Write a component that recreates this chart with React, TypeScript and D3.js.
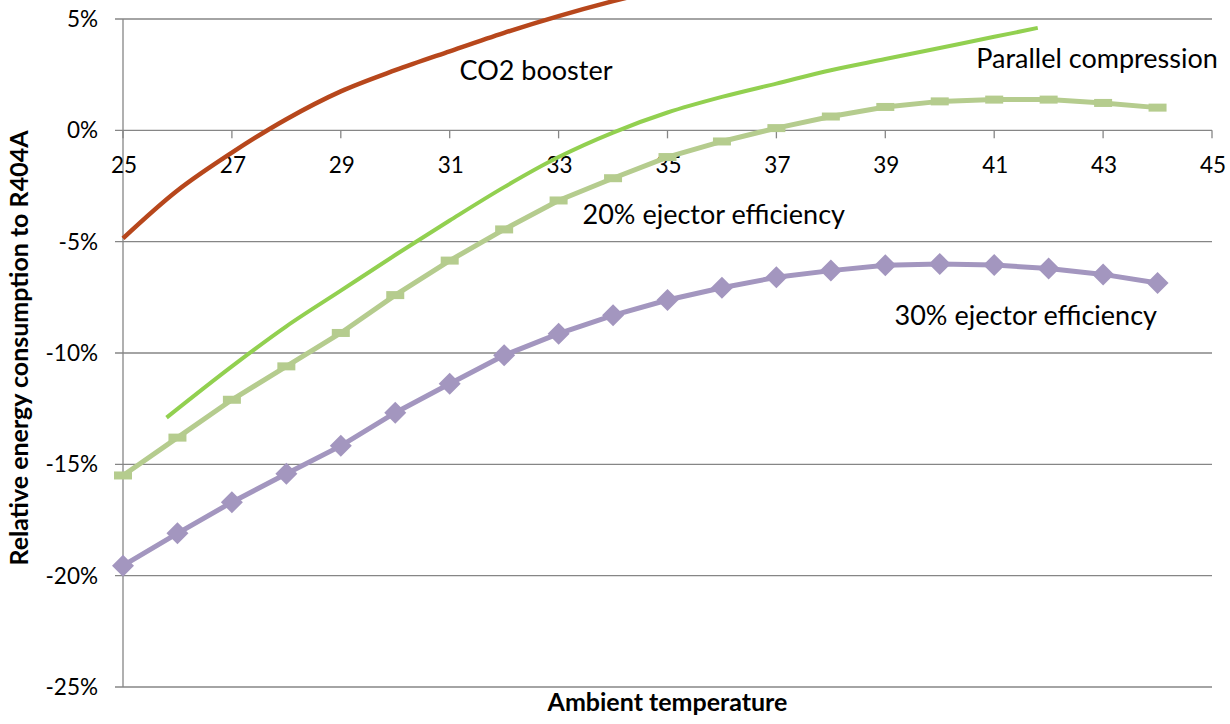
import React from 'react';
import * as d3 from 'd3';

// Ambient temperature categories (°C)
const temps = [25, 26, 27, 28, 29, 30, 31, 32, 33, 34, 35, 36, 37, 38, 39, 40, 41, 42, 43, 44];

// 20% ejector efficiency (% relative to R404A)
const ejector20 = [-15.5, -13.8, -12.1, -10.6, -9.1, -7.4, -5.85, -4.45, -3.15, -2.15, -1.2, -0.5, 0.1, 0.62, 1.05, 1.3, 1.38, 1.38, 1.23, 1.02];

// 30% ejector efficiency
const ejector30 = [-19.55, -18.1, -16.7, -15.42, -14.17, -12.68, -11.38, -10.1, -9.13, -8.31, -7.62, -7.07, -6.6, -6.3, -6.06, -6.0, -6.05, -6.21, -6.47, -6.86];

// CO2 booster
const boosterTemps = [25, 26, 27, 28, 29, 30, 31, 32, 33, 34, 35];
const booster = [-4.85, -2.7, -1.0, 0.5, 1.75, 2.7, 3.55, 4.38, 5.13, 5.8, 6.4];

// Parallel compression
const parallelTemps = [25.8, 27, 28, 29, 30, 31, 32, 33, 34, 35, 36, 37, 38, 39, 40, 41, 41.8];
const parallel = [-12.9, -10.6, -8.8, -7.2, -5.6, -4.05, -2.55, -1.2, -0.1, 0.8, 1.5, 2.1, 2.7, 3.2, 3.7, 4.2, 4.6];

const xTicks = [25, 27, 29, 31, 33, 35, 37, 39, 41, 43, 45];
const yTicks = [5, 0, -5, -10, -15, -20, -25];

const W = 1230;
const H = 724;
const left = 123;
const right = 1212;
const top = 19;
const bottom = 687;

const font = 'Lato, "Open Sans", sans-serif';

export default function App() {
  const x = d3.scaleLinear().domain([25, 45]).range([left, right]);
  const y = d3.scaleLinear().domain([-25, 5]).range([bottom, top]);

  const zip = (xs: number[], ys: number[]) => xs.map((t, i) => [t, ys[i]] as [number, number]);

  const smooth = d3.line<[number, number]>()
    .x(d => x(d[0]))
    .y(d => y(d[1]))
    .curve(d3.curveCatmullRom.alpha(0.5));

  const straight = d3.line<[number, number]>()
    .x(d => x(d[0]))
    .y(d => y(d[1]));

  const e20 = zip(temps, ejector20);
  const e30 = zip(temps, ejector30);

  const grid = '#868686';

  return (
    <svg width={W} height={H} style={{ position: 'absolute', left: 0, top: 0, background: '#fff' }}>
      {/* gridlines */}
      {yTicks.map(v => (
        <line key={v} x1={left - 8} x2={right} y1={y(v)} y2={y(v)} stroke={grid} strokeWidth={1.3} />
      ))}
      {/* y axis */}
      <line x1={left} x2={left} y1={top} y2={bottom} stroke={grid} strokeWidth={1.3} />
      {/* x axis ticks */}
      {xTicks.map(t => (
        <line key={t} x1={x(t)} x2={x(t)} y1={y(0)} y2={y(0) + 8} stroke={grid} strokeWidth={1.3} />
      ))}

      {/* y tick labels */}
      {yTicks.map(v => (
        <text key={v} x={left - 25} y={y(v)} dy="0.36em" textAnchor="end"
          fontFamily={font} fontSize={22.5} fill="#000">{`${v}%`}</text>
      ))}
      {/* x tick labels */}
      {xTicks.map(t => (
        <text key={t} x={x(t) + 1} y={y(0) + 43} textAnchor="middle"
          fontFamily={font} fontSize={22.5} fill="#000">{t}</text>
      ))}

      {/* series */}
      <path d={smooth(zip(boosterTemps, booster)) || ''} fill="none" stroke="#B7471C" strokeWidth={4.5} />
      <path d={smooth(zip(parallelTemps, parallel)) || ''} fill="none" stroke="#92D050" strokeWidth={4} />
      <path d={straight(e20) || ''} fill="none" stroke="#B5CC8E" strokeWidth={5} />
      {e20.map((d, i) => (
        <rect key={i} x={x(d[0]) - 9} y={y(d[1]) - 4} width={18} height={8} fill="#B5CC8E" />
      ))}
      <path d={straight(e30) || ''} fill="none" stroke="#A396BF" strokeWidth={5} />
      {e30.map((d, i) => (
        <path key={i} transform={`translate(${x(d[0])},${y(d[1])})`} d="M0,-11L11,0L0,11L-11,0Z" fill="#A396BF" />
      ))}

      {/* series labels */}
      <text x={x(31.18)} y={y(2.25)} fontFamily={font} fontSize={27} fill="#000">CO2 booster</text>
      <text x={x(40.67)} y={y(2.78)} fontFamily={font} fontSize={27} fill="#000">Parallel compression</text>
      <text x={x(33.44)} y={y(-4.22)} fontFamily={font} fontSize={27} fill="#000">20% ejector efficiency</text>
      <text x={x(39.17)} y={y(-8.76)} fontFamily={font} fontSize={27} fill="#000">30% ejector efficiency</text>

      {/* axis titles */}
      <text x={(left + right) / 2} y={711} textAnchor="middle" fontFamily={font} fontWeight="bold"
        fontSize={25} fill="#000">Ambient temperature</text>
      <text transform={`translate(28,348) rotate(-90)`} textAnchor="middle"
        fontFamily={font} fontWeight="bold" fontSize={25} fill="#000">Relative energy consumption to R404A</text>
    </svg>
  );
}
